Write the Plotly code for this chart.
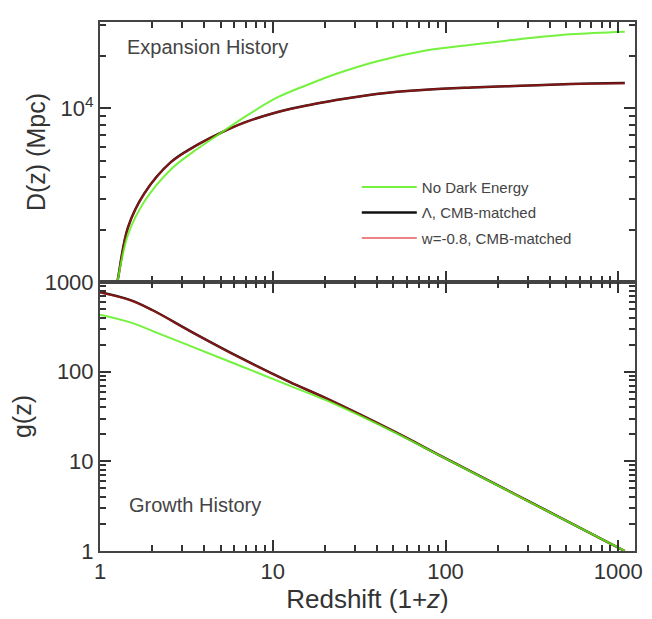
import plotly.graph_objects as go
from plotly.subplots import make_subplots

# ---- Expansion history: distance D(z) in Mpc versus 1+z ----
zp1_dist = [1.2, 1.26, 1.45, 1.81, 2.57, 3.49, 4.96, 6.89, 10.7, 16.6, 22.5,
            39.8, 76.9, 142, 274, 530, 1091]
d_no_de = [790, 1000, 1870, 2920, 4450, 5650, 7170, 8930, 11590, 13900, 15600,
           18600, 21500, 23250, 25100, 26700, 27630]
d_lcdm = [800, 1000, 2060, 3250, 4900, 6000, 7200, 8300, 9530, 10500, 11090,
          12110, 12800, 13180, 13490, 13800, 13970]
d_wcdm = [800, 1000, 2050, 3240, 4890, 5990, 7190, 8290, 9520, 10490, 11080,
          12100, 12790, 13170, 13480, 13790, 13960]

# ---- Growth history: g(z) versus 1+z ----
zp1_growth = [1.0, 1.5, 2.02, 3.49, 6.74, 12.5, 20.6, 50, 100, 300, 1091]
g_no_de = [433, 355, 284, 187, 113, 70, 47.5, 21.3, 10.7, 3.6, 1.0]
g_lcdm = [770, 630, 485, 270, 138, 77, 50, 21.7, 10.8, 3.62, 1.0]
g_wcdm = [768, 628, 484, 269, 137, 77, 50, 21.7, 10.8, 3.62, 1.0]

# ---- Axis ticks ----
x_major = [1, 10, 100, 1000]
x_major_text = ["1", "10", "100", "1000"]
dist_major = [10000]
dist_major_text = ["10<sup>4</sup>"]
growth_major = [1, 10, 100, 1000]
growth_major_text = ["1", "10", "100", "1000"]

series_names = ["No Dark Energy", "\u039b, CMB-matched", "w=-0.8, CMB-matched"]

GREEN = "#5cf01c"
BLACK = "#111111"
RED = "#e01a1a"
INK = "#333333"
FRAME = "#444444"
FONT = "Liberation Sans, Arial, Helvetica, sans-serif"

X_RANGE = [0, 3.097]
DIST_RANGE = [3, 4.497]
GROWTH_RANGE = [0, 3]


def minor_between(majors):
    vals = []
    for m in majors[:-1]:
        vals += [m * k for k in range(2, 10)]
    return vals


fig = make_subplots(rows=2, cols=1, shared_xaxes=True, vertical_spacing=0,
                    row_heights=[265, 274])

# Each panel: main axes carry the decade ticks; an overlay pair of axes
# (same ranges) carries the short minor ticks and the green curve.
panels = [
    (1, zp1_dist, [d_lcdm, d_wcdm, d_no_de], True, ("x3", "y3")),
    (2, zp1_growth, [g_lcdm, g_wcdm, g_no_de], False, ("x4", "y4")),
]
for row, xs, (lcdm, wcdm, node), show, (ox, oy) in panels:
    fig.add_trace(go.Scatter(x=xs, y=lcdm, mode="lines", name=series_names[1],
                             legendgroup="l", legendrank=2, showlegend=show,
                             line=dict(color=BLACK, width=2.5, shape="spline",
                                       smoothing=1.0)), row=row, col=1)
    fig.add_trace(go.Scatter(x=xs, y=wcdm, mode="lines", name=series_names[2],
                             legendgroup="w", legendrank=3, showlegend=show,
                             opacity=0.55,
                             line=dict(color=RED, width=2, shape="spline",
                                       smoothing=1.0)), row=row, col=1)
    fig.add_trace(go.Scatter(x=xs, y=node, mode="lines", name=series_names[0],
                             legendgroup="n", legendrank=1, showlegend=show,
                             opacity=0.85, xaxis=ox, yaxis=oy,
                             line=dict(color=GREEN, width=2, shape="spline",
                                       smoothing=1.0)))

axis_common = dict(
    type="log", showgrid=False, zeroline=False,
    showline=True, linecolor=FRAME, linewidth=2, mirror="allticks",
    ticks="inside", ticklen=11, tickwidth=2, tickcolor=INK,
    tickfont=dict(family=FONT, size=22, color=INK),
)

fig.update_xaxes(**axis_common, range=X_RANGE, tickmode="array",
                 tickvals=x_major, ticktext=x_major_text, row=1, col=1)
fig.update_xaxes(**axis_common, range=X_RANGE, tickmode="array",
                 tickvals=x_major, ticktext=x_major_text, row=2, col=1)
fig.update_xaxes(showticklabels=False, row=1, col=1)
fig.update_xaxes(title=dict(text="Redshift (1+<i>z</i>)", standoff=6,
                            font=dict(family=FONT, size=26, color=INK)),
                 row=2, col=1)

fig.update_yaxes(**axis_common, row=1, col=1)
fig.update_yaxes(**axis_common, row=2, col=1)
fig.update_yaxes(range=DIST_RANGE, tickmode="array", tickvals=dist_major,
                 ticktext=dist_major_text,
                 title=dict(text="D(z) (Mpc)", standoff=8,
                            font=dict(family=FONT, size=25, color=INK)),
                 row=1, col=1)
fig.update_yaxes(range=GROWTH_RANGE, tickmode="array", tickvals=growth_major,
                 ticktext=growth_major_text,
                 title=dict(text="g(z)", standoff=6,
                            font=dict(family=FONT, size=25, color=INK)),
                 row=2, col=1)

minor_axis = dict(type="log", showgrid=False, zeroline=False,
                  showline=False, mirror="allticks", ticks="inside",
                  ticklen=6, tickwidth=1.8, tickcolor=INK,
                  showticklabels=False, tickmode="array")
x_minor_vals = minor_between(x_major + [10000])
fig.update_layout(
    xaxis3=dict(**minor_axis, overlaying="x", anchor="y", range=X_RANGE,
                tickvals=x_minor_vals),
    yaxis3=dict(**minor_axis, overlaying="y", anchor="x", range=DIST_RANGE,
                tickvals=minor_between([1000, 10000, 100000])),
    xaxis4=dict(**minor_axis, overlaying="x2", anchor="y2", range=X_RANGE,
                tickvals=x_minor_vals),
    yaxis4=dict(**minor_axis, overlaying="y2", anchor="x2", range=GROWTH_RANGE,
                tickvals=minor_between(growth_major)),
)

fig.add_annotation(text="Expansion History", xref="paper", yref="paper",
                   x=0.047, y=0.952, xanchor="left", yanchor="middle",
                   showarrow=False, font=dict(family=FONT, size=20, color="#444"))
fig.add_annotation(text="Growth History", xref="paper", yref="paper",
                   x=0.05, y=0.087, xanchor="left", yanchor="middle",
                   showarrow=False, font=dict(family=FONT, size=20, color="#444"))

fig.update_layout(
    width=652, height=619,
    margin=dict(l=100, r=10, t=15, b=65),
    paper_bgcolor="white", plot_bgcolor="white",
    font=dict(family=FONT, color=INK),
    legend=dict(x=0.48, y=0.719, xanchor="left", yanchor="top",
                bgcolor="rgba(0,0,0,0)", itemwidth=55, tracegroupgap=3,
                font=dict(family=FONT, size=15, color="#444")),
)

fig.write_html("out.html")
